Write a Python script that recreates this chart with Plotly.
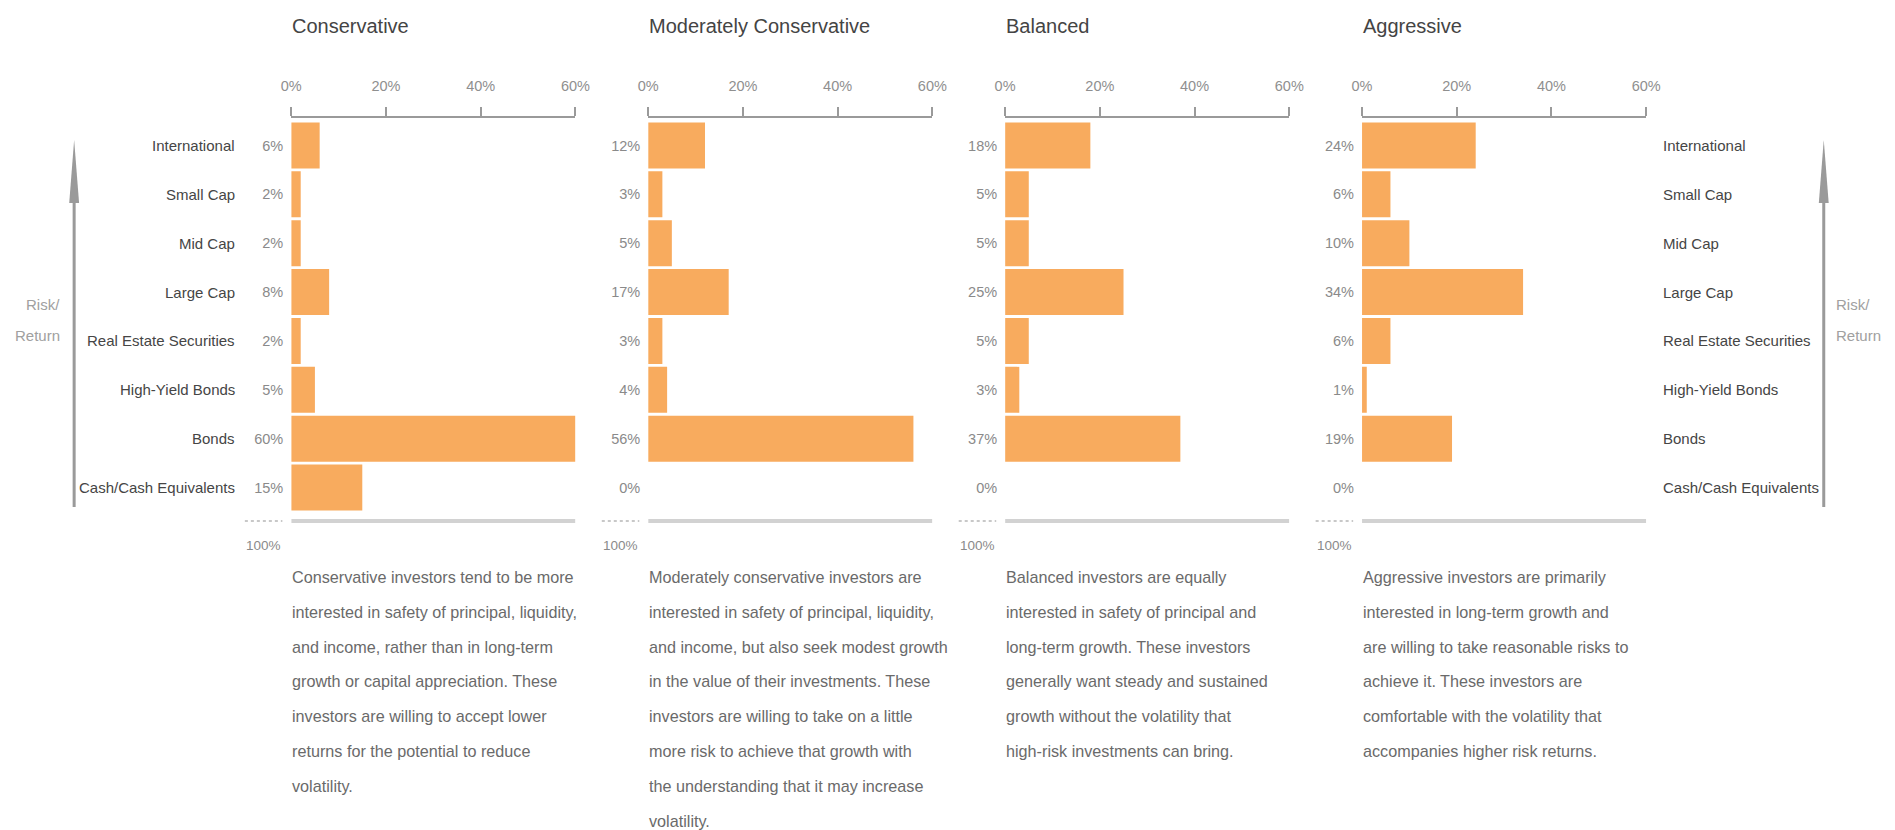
import plotly.graph_objects as go

# ---- data -------------------------------------------------------------
categories = ["International", "Small Cap", "Mid Cap", "Large Cap",
              "Real Estate Securities", "High-Yield Bonds", "Bonds",
              "Cash/Cash Equivalents"]
profiles = ["Conservative", "Moderately Conservative", "Balanced", "Aggressive"]
conservative = [6, 2, 2, 8, 2, 5, 60, 15]
moderately_conservative = [12, 3, 5, 17, 3, 4, 56, 0]
balanced = [18, 5, 5, 25, 5, 3, 37, 0]
aggressive = [24, 6, 10, 34, 6, 1, 19, 0]
axis_ticks = [0, 20, 40, 60]
axis_tick_labels = ["0%", "20%", "40%", "60%"]
total_label = "100%"
side_label = ["Risk/", "Return"]

desc_conservative = [
    "Conservative investors tend to be more",
    "interested in safety of principal, liquidity,",
    "and income, rather than in long-term",
    "growth or capital appreciation. These",
    "investors are willing to accept lower",
    "returns for the potential to reduce",
    "volatility.",
]
desc_moderately_conservative = [
    "Moderately conservative investors are",
    "interested in safety of principal, liquidity,",
    "and income, but also seek modest growth",
    "in the value of their investments. These",
    "investors are willing to take on a little",
    "more risk to achieve that growth with",
    "the understanding that it may increase",
    "volatility.",
]
desc_balanced = [
    "Balanced investors are equally",
    "interested in safety of principal and",
    "long-term growth. These investors",
    "generally want steady and sustained",
    "growth without the volatility that",
    "high-risk investments can bring.",
]
desc_aggressive = [
    "Aggressive investors are primarily",
    "interested in long-term growth and",
    "are willing to take reasonable risks to",
    "achieve it. These investors are",
    "comfortable with the volatility that",
    "accompanies higher risk returns.",
]

series = [conservative, moderately_conservative, balanced, aggressive]
descriptions = [desc_conservative, desc_moderately_conservative,
                desc_balanced, desc_aggressive]

# ---- layout helpers (pixel -> paper) ----------------------------------
W, H = 1895, 830
FONT = "Liberation Sans, Arial, Helvetica, sans-serif"
BAR = "#F8AB5E"


def px(x):
    return x / W


def py(y):
    return 1 - y / H


panel_left = [285 + 361.7 * i for i in range(4)]
panel_width = 288
axis_top, axis_bottom = 118, 521
band_top, row_pitch = 121, 48.875
top_idx = -0.5 - (band_top - axis_top) / row_pitch
bot_idx = top_idx + (axis_bottom - axis_top) / row_pitch

fig = go.Figure()
annotations = []
shapes = []

for i, (name, vals, desc) in enumerate(zip(profiles, series, descriptions)):
    n = "" if i == 0 else str(i + 1)
    xa, ya = "x" + n, "y" + n
    left = panel_left[i]

    fig.add_trace(go.Bar(
        x=vals, y=categories, orientation="h",
        marker=dict(color=BAR, line=dict(width=0)),
        xaxis=xa, yaxis=ya, showlegend=False, hoverinfo="x+y",
    ))

    fig.layout["xaxis" + n] = dict(
        domain=[px(left), px(left + panel_width)], anchor=ya,
        range=[0, 60], side="top", showgrid=False, zeroline=False,
        tickmode="array", tickvals=axis_ticks, ticktext=axis_tick_labels,
        ticks="outside", ticklen=9, tickwidth=1.5, tickcolor="#9a9a9a",
        showline=True, linecolor="#9a9a9a", linewidth=1.5,
        tickfont=dict(family=FONT, size=14.5, color="#8f8f8f"),
        ticklabelstandoff=10, fixedrange=True,
    )
    fig.layout["yaxis" + n] = dict(
        domain=[py(axis_bottom), py(axis_top)], anchor=xa,
        type="category", categoryorder="array", categoryarray=categories,
        range=[bot_idx, top_idx], showgrid=False, zeroline=False,
        showline=False, ticks="",
        tickmode="array", tickvals=categories,
        ticktext=[f"{v}%" for v in vals],
        tickfont=dict(family=FONT, size=14.5, color="#8a8a8a"),
        ticklabelstandoff=7, fixedrange=True,
    )

    # panel title
    annotations.append(dict(
        text=name, xref="paper", yref="paper", x=px(left - 1), y=py(26),
        xanchor="left", yanchor="middle", showarrow=False,
        font=dict(family=FONT, size=20, color="#444444"),
    ))

    # thick baseline under the bars
    shapes.append(dict(
        type="line", xref=xa, yref=ya + " domain", x0=0, x1=60, y0=0, y1=0,
        line=dict(color="#d2d2d2", width=4),
    ))
    # short dotted total rule with its label
    shapes.append(dict(
        type="line", xref="paper", yref="paper",
        x0=px(left - 47), x1=px(left - 9), y0=py(axis_bottom), y1=py(axis_bottom),
        line=dict(color="#c8c8c8", width=2, dash="dot"),
    ))
    annotations.append(dict(
        text=total_label, xref="paper", yref="paper", x=px(left - 8), y=py(545),
        xanchor="right", yanchor="middle", showarrow=False,
        font=dict(family=FONT, size=13.5, color="#8a8a8a"),
    ))

    # description paragraph
    for k, line in enumerate(desc):
        annotations.append(dict(
            text=line, xref="paper", yref="paper", x=px(left - 1),
            y=py(577 + 34.8 * k), xanchor="left", yanchor="middle",
            showarrow=False, font=dict(family=FONT, size=16.2, color="#6a6a6a"),
        ))

# category names on the outer sides
for cat in categories:
    annotations.append(dict(
        text=cat, xref="paper", yref="y", x=px(230), y=cat,
        xanchor="right", yanchor="middle", showarrow=False,
        font=dict(family=FONT, size=15, color="#454545"),
    ))
    annotations.append(dict(
        text=cat, xref="paper", yref="y4", x=px(1673), y=cat,
        xanchor="left", yanchor="middle", showarrow=False,
        font=dict(family=FONT, size=15, color="#454545"),
    ))

# risk/return arrows on both sides
for ax_x, lab_x, anchor in [(65, 53, "right"), (1838, 1848, "left")]:
    shapes.append(dict(
        type="line", xref="paper", yref="paper",
        x0=px(ax_x), x1=px(ax_x), y0=py(198), y1=py(507),
        line=dict(color="#9a9a9a", width=3),
    ))
    shapes.append(dict(
        type="path", xref="paper", yref="paper",
        path=(f"M {px(ax_x)},{py(140)} L {px(ax_x - 5)},{py(203)} "
              f"L {px(ax_x + 5)},{py(203)} Z"),
        fillcolor="#9a9a9a", line=dict(width=0),
    ))
    for k, t in enumerate(side_label):
        annotations.append(dict(
            text=t, xref="paper", yref="paper", x=px(lab_x), y=py(304 + 31 * k),
            xanchor=anchor, yanchor="middle", showarrow=False,
            font=dict(family=FONT, size=15, color="#a0a0a0"),
        ))

fig.update_layout(
    width=W, height=H, margin=dict(l=0, r=0, t=0, b=0),
    paper_bgcolor="white", plot_bgcolor="white",
    bargap=0.06, annotations=annotations, shapes=shapes,
    font=dict(family=FONT),
)

fig.write_html("out.html", config={"displayModeBar": False})
